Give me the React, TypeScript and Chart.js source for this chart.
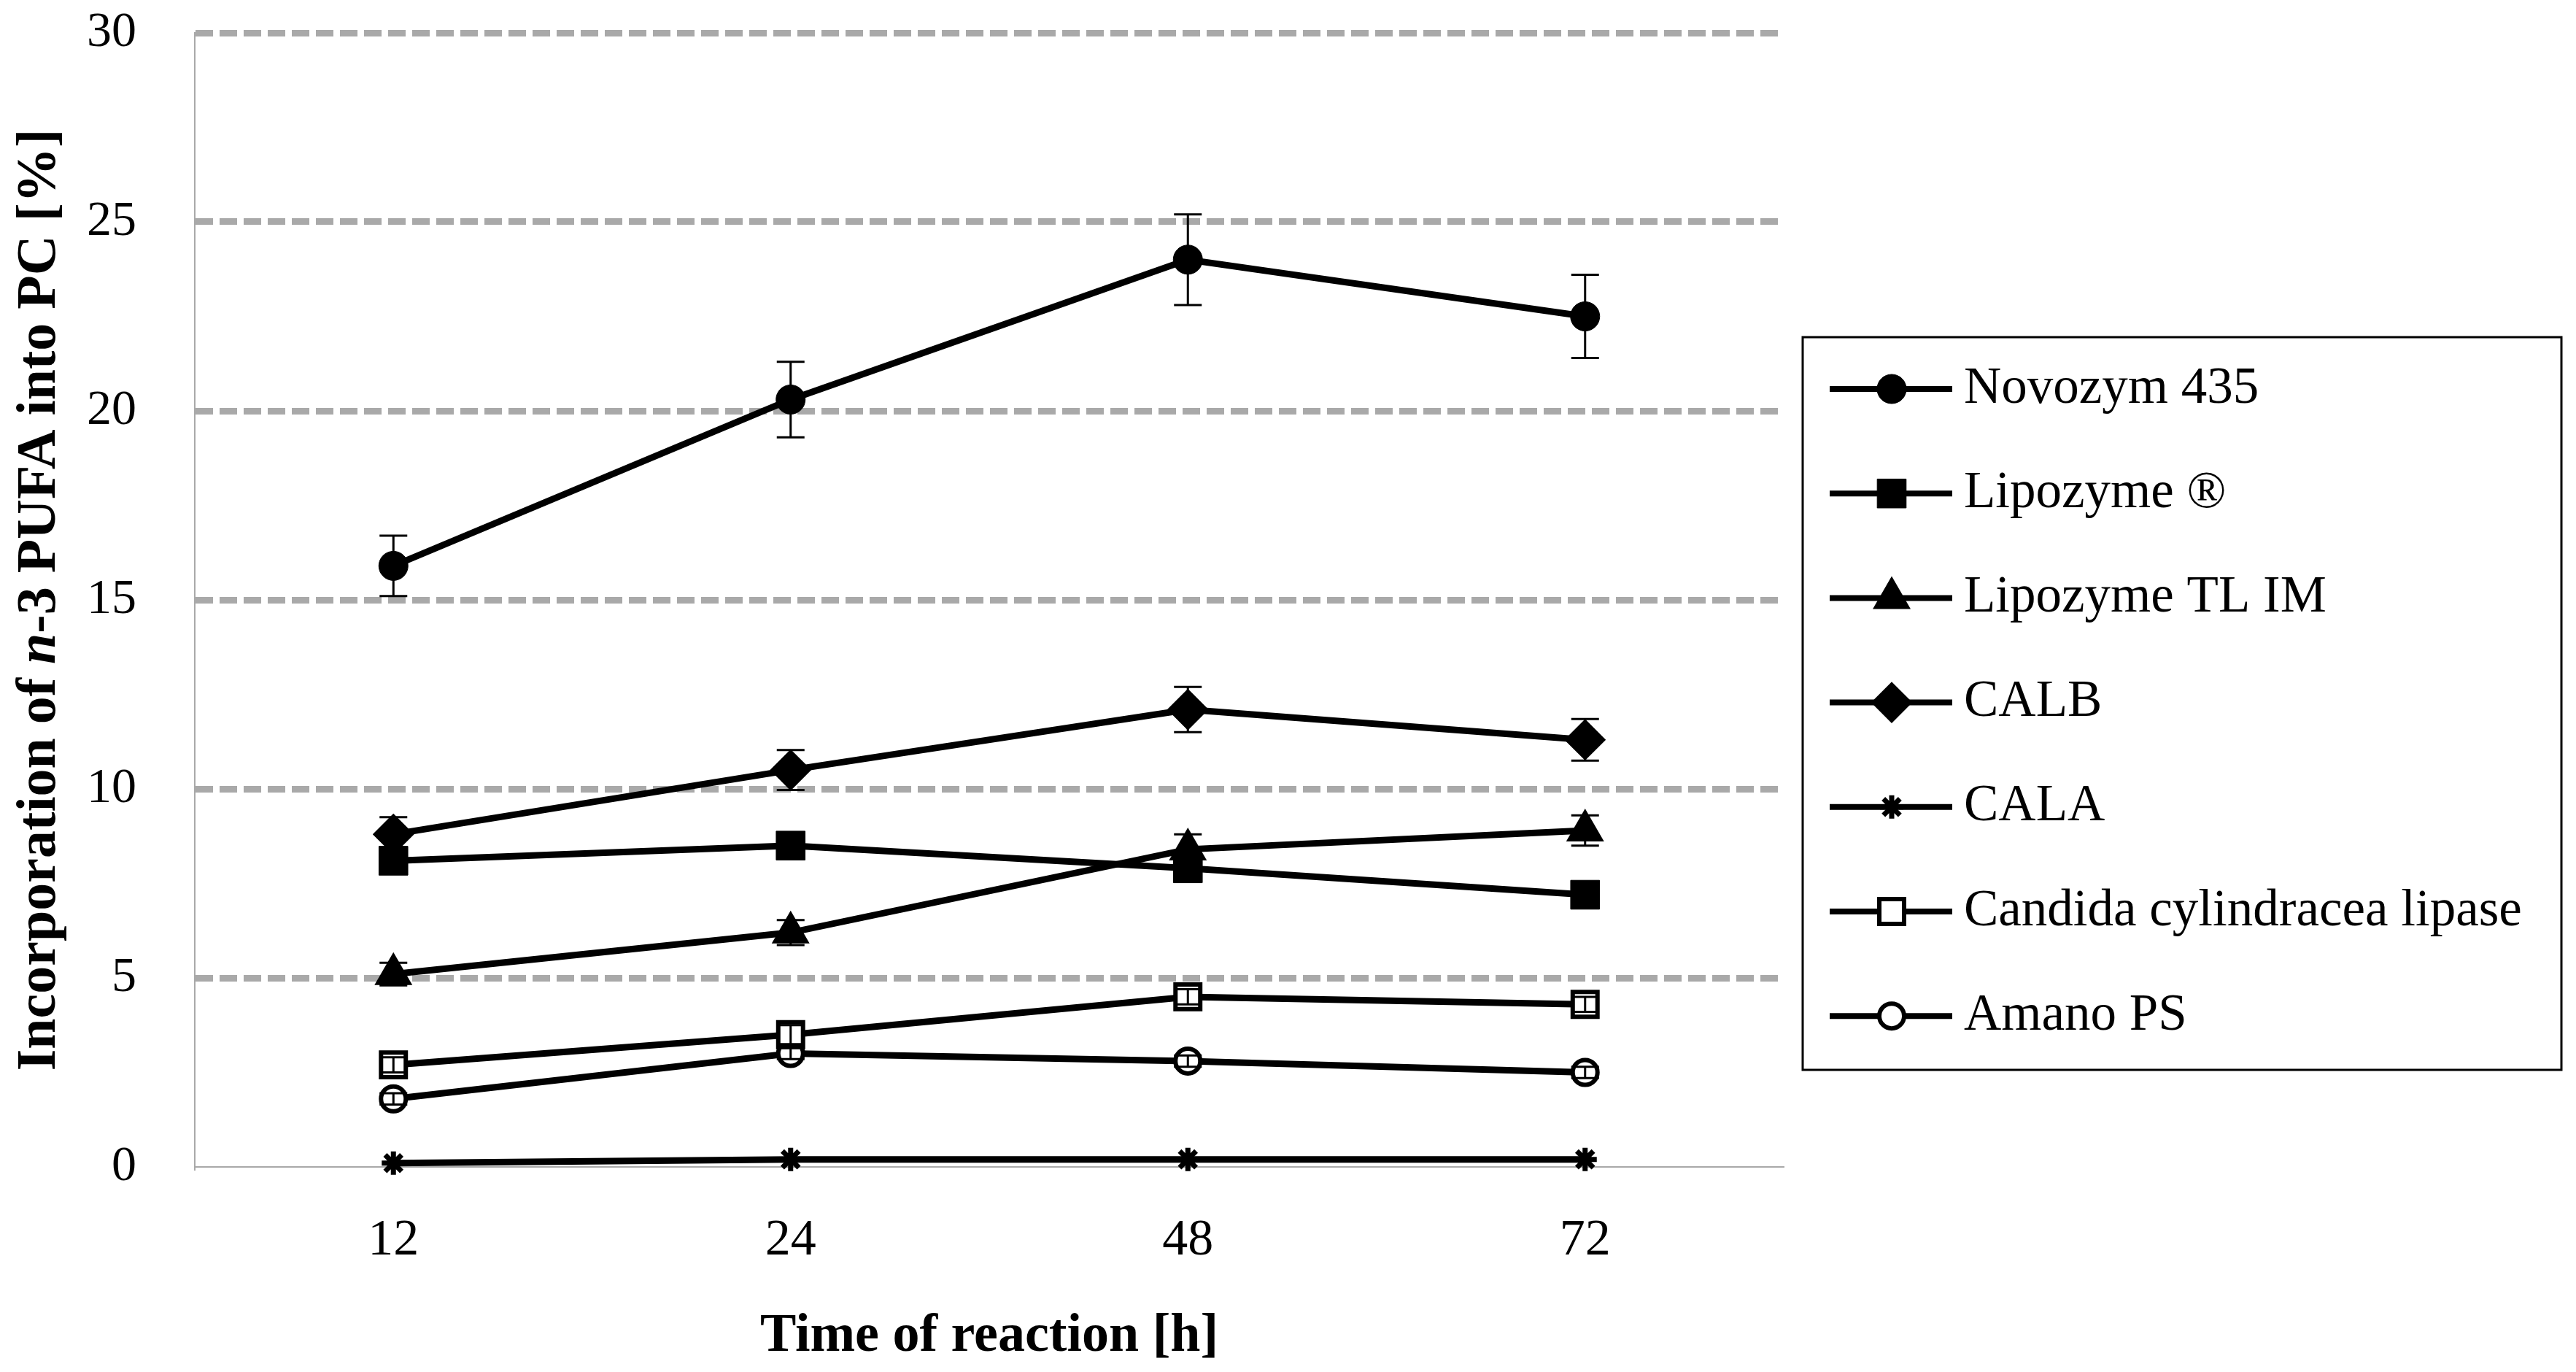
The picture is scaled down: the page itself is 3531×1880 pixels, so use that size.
import { useEffect, useRef } from 'react';
import { Chart, registerables } from 'chart.js';
import { drawPoint } from 'chart.js/helpers';

Chart.register(...registerables);

const hours = ['12', '24', '48', '72'];
const yTicks = [0, 5, 10, 15, 20, 25, 30];

const seriesNames = [
  'Novozym 435',
  'Lipozyme ®',
  'Lipozyme TL IM',
  'CALB',
  'CALA',
  'Candida cylindracea lipase',
  'Amano PS',
];

const novozym = [15.9, 20.3, 24.0, 22.5];
const novozymErr = [0.8, 1.0, 1.2, 1.1];
const lipozyme = [8.1, 8.5, 7.9, 7.2];
const lipozymeErr = [0.3, 0.3, 0.3, 0.3];
const lipozymeTL = [5.1, 6.2, 8.4, 8.9];
const lipozymeTLErr = [0.3, 0.33, 0.4, 0.4];
const calb = [8.8, 10.5, 12.1, 11.3];
const calbErr = [0.45, 0.53, 0.6, 0.55];
const cala = [0.1, 0.2, 0.2, 0.2];
const calaErr = [0, 0, 0, 0];
const candida = [2.7, 3.5, 4.5, 4.3];
const candidaErr = [0.2, 0.25, 0.2, 0.2];
const amano = [1.8, 3.0, 2.8, 2.5];
const amanoErr = [0.15, 0.15, 0.15, 0.15];

const seriesValues = [novozym, lipozyme, lipozymeTL, calb, cala, candida, amano];
const seriesErrors = [novozymErr, lipozymeErr, lipozymeTLErr, calbErr, calaErr, candidaErr, amanoErr];

// marker look per series (same order as seriesNames)
const markers = [
  { style: 'circle', radius: 20, fill: '#000', border: 1 },
  { style: 'rect', radius: 28, fill: '#000', border: 1 },
  { style: 'triangle', radius: 28, fill: '#000', border: 2 },
  { style: 'rectRot', radius: 27, fill: '#000', border: 2 },
  { style: 'star', radius: 16, fill: '#000', border: 7 },
  { style: 'rect', radius: 24, fill: '#fff', border: 6 },
  { style: 'circle', radius: 17, fill: '#fff', border: 6 },
];

const SERIF = "'Liberation Serif', 'Times New Roman', serif";
const GRID = '#a9a9a9';
const CLEAR = 'rgba(0,0,0,0)';

const errorBarsPlugin = {
  id: 'errorBars',
  afterDatasetsDraw(chart: Chart) {
    const { ctx } = chart;
    const yScale = chart.scales.y;
    ctx.save();
    ctx.strokeStyle = '#000';
    ctx.lineWidth = 3;
    chart.data.datasets.forEach((ds, i) => {
      const meta = chart.getDatasetMeta(i);
      const errs = seriesErrors[i];
      meta.data.forEach((pt, j) => {
        const e = errs[j];
        if (!e) return;
        const v = ds.data[j] as number;
        const top = yScale.getPixelForValue(v + e);
        const bot = yScale.getPixelForValue(v - e);
        const x = pt.x;
        ctx.beginPath();
        ctx.moveTo(x, top);
        ctx.lineTo(x, bot);
        ctx.moveTo(x - 19, top);
        ctx.lineTo(x + 19, top);
        ctx.moveTo(x - 19, bot);
        ctx.lineTo(x + 19, bot);
        ctx.stroke();
      });
    });
    ctx.restore();
  },
};

const yTitlePlugin = {
  id: 'yTitle',
  afterDraw(chart: Chart) {
    const { ctx, chartArea } = chart;
    const parts = [
      { text: 'Incorporation of ', italic: false },
      { text: 'n', italic: true },
      { text: '-3 PUFA into PC [%]', italic: false },
    ];
    const fontFor = (italic: boolean) => `${italic ? 'italic ' : ''}bold 76px ${SERIF}`;
    ctx.save();
    let total = 0;
    const widths = parts.map((p) => {
      ctx.font = fontFor(p.italic);
      const w = ctx.measureText(p.text).width;
      total += w;
      return w;
    });
    ctx.translate(75, (chartArea.top + chartArea.bottom) / 2);
    ctx.rotate(-Math.PI / 2);
    ctx.fillStyle = '#000';
    ctx.textBaseline = 'alphabetic';
    ctx.textAlign = 'left';
    let x = -total / 2;
    parts.forEach((p, i) => {
      ctx.font = fontFor(p.italic);
      ctx.fillText(p.text, x, 0);
      x += widths[i];
    });
    ctx.restore();
  },
};

const legendPlugin = {
  id: 'boxLegend',
  afterDraw(chart: Chart) {
    const { ctx, chartArea } = chart;
    const boxX = chartArea.right + 26;
    const boxY = 462;
    const boxW = 1040;
    const boxH = 1004;
    ctx.save();
    ctx.strokeStyle = '#000';
    ctx.lineWidth = 3;
    ctx.strokeRect(boxX, boxY, boxW, boxH);
    chart.data.datasets.forEach((ds, i) => {
      const rowY = boxY + 71 + i * 143.2;
      const m = markers[i];
      ctx.strokeStyle = '#000';
      ctx.lineWidth = 8;
      ctx.beginPath();
      ctx.moveTo(boxX + 37, rowY);
      ctx.lineTo(boxX + 205, rowY);
      ctx.stroke();
      ctx.fillStyle = m.fill;
      ctx.lineWidth = m.border;
      drawPoint(ctx, { pointStyle: m.style as any, rotation: 0, radius: m.radius, borderWidth: m.border }, boxX + 122, rowY);
      ctx.fillStyle = '#000';
      ctx.font = `71px ${SERIF}`;
      ctx.textBaseline = 'middle';
      ctx.textAlign = 'left';
      ctx.fillText(ds.label as string, boxX + 221, rowY);
    });
    ctx.restore();
  },
};

export default function App() {
  const canvasRef = useRef<HTMLCanvasElement>(null);
  const chartRef = useRef<Chart | null>(null);

  useEffect(() => {
    if (!canvasRef.current) return;
    if (chartRef.current) chartRef.current.destroy();

    chartRef.current = new Chart(canvasRef.current, {
      type: 'line',
      data: {
        labels: hours,
        datasets: seriesNames.map((name, i) => ({
          label: name,
          data: seriesValues[i],
          borderColor: '#000',
          borderWidth: 9,
          tension: 0,
          clip: false as any,
          pointStyle: markers[i].style as any,
          pointRadius: markers[i].radius,
          pointBackgroundColor: markers[i].fill,
          pointBorderColor: '#000',
          pointBorderWidth: markers[i].border,
        })),
      },
      options: {
        responsive: true,
        maintainAspectRatio: false,
        animation: false,
        events: [],
        layout: {
          padding: { top: 45, right: 1086, left: 0, bottom: 0 },
        },
        plugins: {
          legend: { display: false },
          tooltip: { enabled: false },
        },
        scales: {
          x: {
            type: 'category',
            offset: true,
            grid: { display: false, drawTicks: false },
            border: { display: true, color: GRID, width: 2 },
            ticks: {
              color: '#000',
              padding: 60,
              font: { family: SERIF, size: 70 },
            },
            title: {
              display: true,
              text: 'Time of reaction [h]',
              color: '#000',
              padding: { top: 0, bottom: 4 },
              font: { family: SERIF, size: 74, weight: 'bold' },
            },
            afterFit: (scale) => {
              scale.height = 281;
            },
          },
          y: {
            min: 0,
            max: 30,
            afterBuildTicks: (scale) => {
              scale.ticks = yTicks.map((v) => ({ value: v }));
            },
            grid: {
              color: (ctx) => (ctx.tick && ctx.tick.value === 0 ? CLEAR : GRID),
              lineWidth: 9,
              drawTicks: true,
              tickLength: 80,
              tickColor: CLEAR,
            },
            border: { display: true, color: GRID, width: 2, dash: [24, 9] },
            ticks: {
              color: '#000',
              padding: 0,
              font: { family: SERIF, size: 68 },
            },
            afterFit: (scale) => {
              scale.width = 267;
            },
          },
        },
      },
      plugins: [errorBarsPlugin, yTitlePlugin, legendPlugin],
    });

    return () => {
      if (chartRef.current) {
        chartRef.current.destroy();
        chartRef.current = null;
      }
    };
  }, []);

  return (
    <div style={{ position: 'fixed', left: 0, top: 0, width: '100vw', height: '100vh', background: '#fff' }}>
      <canvas ref={canvasRef}></canvas>
    </div>
  );
}
